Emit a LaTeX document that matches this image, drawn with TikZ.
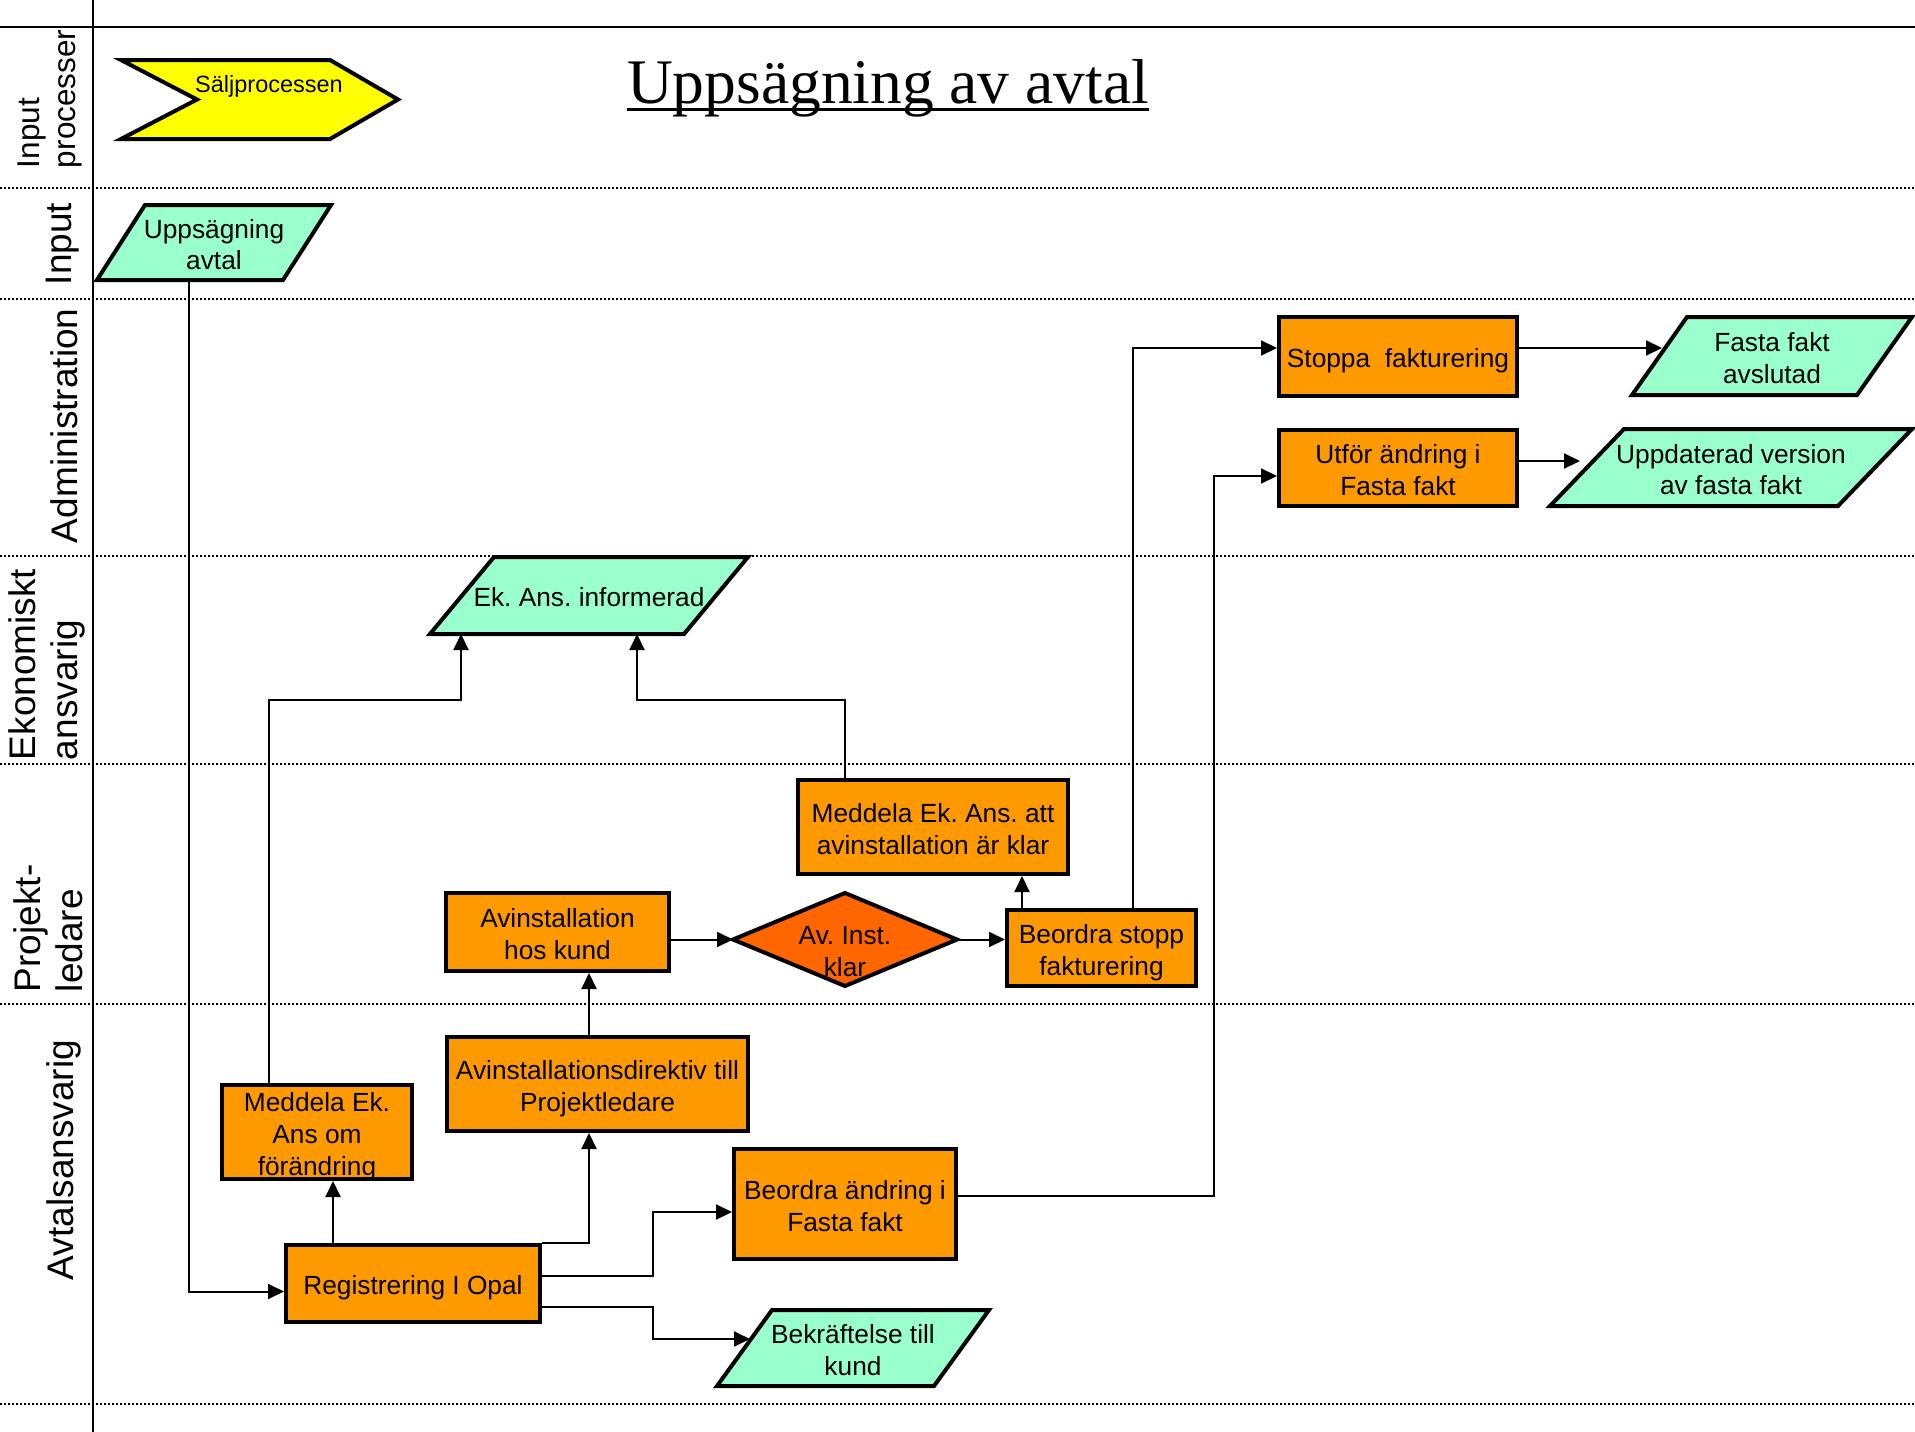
\documentclass[tikz,border=0pt]{standalone}
\usepackage{fontspec}
\setmainfont{Liberation Sans}
\newfontfamily\titlefont{Liberation Serif}
\usetikzlibrary{arrows.meta}
\pgfdeclarelayer{bg}
\pgfsetlayers{bg,main}
\frenchspacing

\definecolor{boxorange}{HTML}{FF9900}
\definecolor{mint}{HTML}{99FFCC}
\definecolor{chevyellow}{HTML}{FFFF00}
\definecolor{decisionorange}{HTML}{FF6600}

\tikzset{
  every node/.style={inner sep=0pt, outer sep=0pt},
  % box text: fixed line box so descenders do not shift the centring
  boxtxt/.style={font=\fontsize{26.3}{31.8}\selectfont, align=center, text depth=0pt},
  oneline/.style={text height=22.8pt},
  twolines/.style={text height=54.6pt},
  threelines/.style={text height=86.4pt},
  procbox/.style={boxtxt, draw, line width=4pt, fill=boxorange, outer sep=2pt},
  shapehelper/.style={boxtxt},
  shapeframe/.style={draw, line width=4pt, line join=miter},
  conn/.style={line width=2pt, -{Triangle[length=16pt,width=15pt]}},
  lane/.style={line width=1.5pt, dash pattern=on 2pt off 2pt},
  frameline/.style={line width=2.5pt},
  lanelabel/.style={rotate=90, anchor=south west, align=left,
                    font=\fontsize{37}{42}\selectfont},
}

% parallelogram drawn behind a named helper node: #1 node, #2 slant
\newcommand\paraframe[2]{%
  \begin{pgfonlayer}{bg}
    \draw[shapeframe, fill=mint]
      ([xshift=#2pt]#1.north west) -- (#1.north east)
      -- ([xshift=-#2pt]#1.south east) -- (#1.south west) -- cycle;
  \end{pgfonlayer}}

\begin{document}
\begin{tikzpicture}[x=1pt, y=-1pt]
\useasboundingbox (0,0) rectangle (1915,1432);

% swimlane grid
\begin{pgfonlayer}{bg}
  \fill[white] (0,0) rectangle (1915,1432);
  \foreach \yy in {188,299,556,764,1004,1404}
    \draw[lane] (0,\yy) -- (1915,\yy);
  \draw[frameline] (0,27) -- (1915,27);
  \draw[frameline] (93,0) -- (93,1432);
\end{pgfonlayer}

% lane titles
\node[lanelabel, font=\fontsize{31.5}{36}\selectfont] (lInproc) at (82,168) {Input\\processer};
\node[lanelabel] (lInput) at (79,285) {Input};
\node[lanelabel] (lAdmin) at (78,543) {Administration};
\node[lanelabel] (lEkon) at (85,760) {Ekonomiskt\\ansvarig};
\node[lanelabel] (lProj) at (83,992) {Projekt-\\ledare};
\node[lanelabel] (lAvtal) at (81,1280) {Avtalsansvarig};

% heading
\node[font=\titlefont\fontsize{63.5}{70}\selectfont, anchor=base] (title) at (888,103) {Uppsägning av avtal};
\draw[line width=3pt] ([yshift=-6pt]title.base west) -- ([yshift=-6pt]title.base east);

% input process chevron
\begin{pgfonlayer}{bg}
  \draw[shapeframe, fill=chevyellow]
    (121,60) -- (330,60) -- (398,99.5) -- (330,139) -- (121,139) -- (197,99.5) -- cycle;
\end{pgfonlayer}
\node[font=\fontsize{23.5}{28}\selectfont, anchor=base] (salj) at (269,92) {Säljprocessen};

% data objects
\node[shapehelper, twolines, minimum width=234pt, minimum height=75pt] (uppavt) at (214,242.5) {Uppsägning\\avtal};
\paraframe{uppavt}{48}
\node[shapehelper, oneline, minimum width=318pt, minimum height=77pt] (ekans) at (589,595.5) {Ek. Ans. informerad};
\paraframe{ekans}{64}
\node[shapehelper, twolines, minimum width=280pt, minimum height=78pt] (fasta) at (1772,356) {Fasta fakt\\avslutad};
\paraframe{fasta}{55}
\node[shapehelper, twolines, minimum width=362pt, minimum height=77pt] (uppd) at (1731,467.5) {Uppdaterad version\\av fasta fakt};
\paraframe{uppd}{74}
\node[shapehelper, twolines, minimum width=272pt, minimum height=76pt] (bek) at (853,1348) {Bekräftelse till\\kund};
\paraframe{bek}{55}

% process steps
\node[procbox, oneline, minimum width=238pt, minimum height=79pt] (stoppa) at (1398,356.5) {Stoppa\ \ fakturering};
\node[procbox, twolines, minimum width=238pt, minimum height=76pt] (utfor) at (1398,468) {Utför ändring i\\Fasta fakt};
\node[procbox, twolines, minimum width=270pt, minimum height=94pt] (meddKlar) at (933,827) {Meddela Ek. Ans. att\\avinstallation är klar};
\node[procbox, twolines, minimum width=223pt, minimum height=78pt] (avhos) at (557.5,932) {Avinstallation\\hos kund};
\node[procbox, twolines, minimum width=189pt, minimum height=76pt] (bstopp) at (1101.5,948) {Beordra stopp\\fakturering};
\node[procbox, threelines, minimum width=190pt, minimum height=94pt] (meddEk) at (317,1132) {Meddela Ek.\\Ans om\\förändring};
\node[procbox, twolines, minimum width=301pt, minimum height=94pt] (direktiv) at (597.5,1084) {Avinstallationsdirektiv till\\Projektledare};
\node[procbox, oneline, minimum width=254pt, minimum height=77pt] (reg) at (413,1283.5) {Registrering I Opal};
\node[procbox, twolines, minimum width=222pt, minimum height=110pt] (bandr) at (845,1204) {Beordra ändring i\\Fasta fakt};

% decision
\node[minimum width=224pt, minimum height=93pt] (avklar) at (845,939.5) {};
\begin{pgfonlayer}{bg}
  \draw[shapeframe, fill=decisionorange]
    (avklar.west) -- (avklar.north) -- (avklar.east) -- (avklar.south) -- cycle;
\end{pgfonlayer}
\node[boxtxt, twolines] (avklartext) at (845,949) {Av. Inst.\\klar};

% connectors
\coordinate (uTap) at ([xshift=-25pt]uppavt.south);
\coordinate (regIn) at ([yshift=-8pt]reg.west);
\draw[conn] (uTap) |- (regIn);

\coordinate (regUpL) at ([xshift=-80pt]reg.north);
\draw[conn] (regUpL) -- (regUpL |- meddEk.south);

\coordinate (dirIn) at ([xshift=-8.5pt]direktiv.south);
\draw[conn] (reg.north east) -| (dirIn);

\coordinate (dirOut) at ([xshift=-8.5pt]direktiv.north);
\draw[conn] (dirOut) -- (dirOut |- avhos.south);

\coordinate (regOutA) at ([yshift=7.5pt]reg.east);
\coordinate (bandrIn) at ([yshift=-8pt]bandr.west);
\draw[conn] (regOutA) -- ++(111,0) |- (bandrIn);

\coordinate (regOutB) at ([yshift=-23.5pt]reg.east);
\coordinate (bekIn) at ([xshift=33pt,yshift=9pt]bek.west);
\draw[conn] (regOutB) -- ++(111,0) |- (bekIn);

\coordinate (bandrOut) at ([yshift=8pt]bandr.east);
\coordinate (utforIn) at ([yshift=-8pt]utfor.west);
\draw[conn] (bandrOut) -- ++(256,0) |- (utforIn);

\coordinate (utforOut) at ([yshift=7pt]utfor.east);
\coordinate (uppdIn) at ([xshift=30pt,yshift=6.5pt]uppd.west);
\draw[conn] (utforOut) -- (utforOut -| uppdIn);

\coordinate (bsUp) at ([xshift=31.5pt]bstopp.north);
\coordinate (stopIn) at ([yshift=8.5pt]stoppa.west);
\draw[conn] (bsUp) |- (stopIn);

\coordinate (stopOut) at ([yshift=8.5pt]stoppa.east);
\coordinate (fastaIn) at ([xshift=30pt,yshift=8pt]fasta.west);
\draw[conn] (stopOut) -- (stopOut -| fastaIn);

\coordinate (bsUp2) at ([xshift=-79.5pt]bstopp.north);
\draw[conn] (bsUp2) -- (bsUp2 |- meddKlar.south);

\draw[conn] (avhos.east |- avklar.west) -- (avklar.west);
\draw[conn] (avklar.east) -- (avklar.east -| bstopp.west);

\coordinate (meUp) at ([xshift=-48pt]meddEk.north);
\coordinate (ekInL) at ([xshift=-128pt]ekans.south);
\coordinate (ekJoinL) at ([xshift=-128pt,yshift=-66pt]ekans.south);
\draw[conn] (meUp) |- (ekJoinL) -- (ekInL);

\coordinate (mkUp) at ([xshift=-88pt]meddKlar.north);
\coordinate (ekInR) at ([xshift=48pt]ekans.south);
\coordinate (ekJoinR) at ([xshift=48pt,yshift=-66pt]ekans.south);
\draw[conn] (mkUp) |- (ekJoinR) -- (ekInR);
\end{tikzpicture}
\end{document}
